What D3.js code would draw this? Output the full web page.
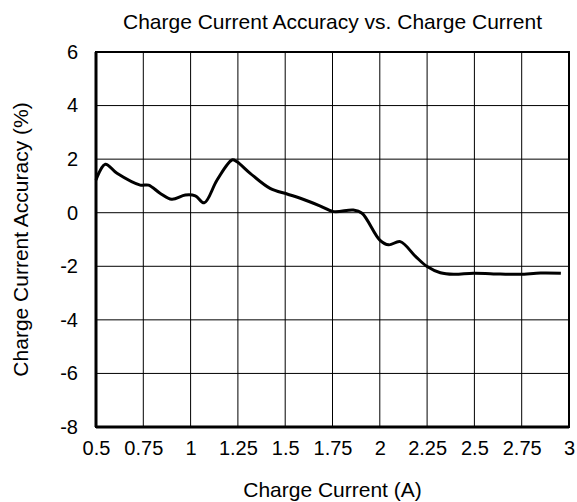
<!DOCTYPE html>
<html>
<head>
<meta charset="utf-8">
<script src="https://cdn.jsdelivr.net/npm/d3@7"></script>
<style>
  body { margin: 0; background: #fff; }
  text { font-family: "Liberation Sans", Arial, sans-serif; fill: #000; }
</style>
</head>
<body>
<svg id="chart" width="577" height="502"></svg>
<script>
// Values
const currentA = [0.5, 0.549, 0.611, 0.734, 0.778, 0.84, 0.9, 0.972, 1.025, 1.072, 1.14, 1.219, 1.245,
  1.315, 1.42, 1.51, 1.58, 1.686, 1.756, 1.86, 1.906, 2.0, 2.047, 2.108, 2.19, 2.25, 2.32, 2.39,
  2.496, 2.637, 2.74, 2.85, 2.957];
const accuracyPct = [1.22, 1.81, 1.47, 1.03, 1.03, 0.72, 0.5, 0.66, 0.63, 0.37, 1.22, 1.97, 1.9,
  1.47, 0.91, 0.7, 0.54, 0.25, 0.04, 0.1, -0.02, -1.02, -1.2, -1.08, -1.64, -2.01, -2.24, -2.3,
  -2.26, -2.29, -2.3, -2.25, -2.26];
const xTicks = [0.5, 0.75, 1, 1.25, 1.5, 1.75, 2, 2.25, 2.5, 2.75, 3];
const yTicks = [-8, -6, -4, -2, 0, 2, 4, 6];

const svg = d3.select("#chart");
const margin = { top: 52, right: 8, bottom: 75, left: 96 };
const width = +svg.attr("width");
const height = +svg.attr("height");
const innerWidth = width - margin.left - margin.right;
const innerHeight = height - margin.top - margin.bottom;

const x = d3.scaleLinear().domain([0.5, 3]).range([0, innerWidth]);
const y = d3.scaleLinear().domain([-8, 6]).range([innerHeight, 0]);

const g = svg.append("g").attr("transform", `translate(${margin.left},${margin.top})`);

// grid
g.append("g")
  .selectAll("line")
  .data(xTicks)
  .join("line")
  .attr("x1", (d) => x(d))
  .attr("x2", (d) => x(d))
  .attr("y1", 0)
  .attr("y2", innerHeight)
  .attr("stroke", "#000")
  .attr("stroke-width", 1);

g.append("g")
  .selectAll("line")
  .data(yTicks)
  .join("line")
  .attr("x1", 0)
  .attr("x2", innerWidth)
  .attr("y1", (d) => y(d))
  .attr("y2", (d) => y(d))
  .attr("stroke", "#000")
  .attr("stroke-width", 1);

// frame
g.append("rect")
  .attr("width", innerWidth)
  .attr("height", innerHeight)
  .attr("fill", "none")
  .attr("stroke", "#000")
  .attr("stroke-width", 2);
g.append("line").attr("x1", 0).attr("x2", 0).attr("y1", 0).attr("y2", innerHeight)
  .attr("stroke", "#000").attr("stroke-width", 3);
g.append("line").attr("x1", 0).attr("x2", innerWidth).attr("y1", innerHeight).attr("y2", innerHeight)
  .attr("stroke", "#000").attr("stroke-width", 3);

// tick labels
const fmt = (d) => String(d);
const xAxis = g.append("g")
  .attr("transform", `translate(0,${innerHeight})`)
  .call(d3.axisBottom(x).tickValues(xTicks).tickSize(0).tickPadding(14).tickFormat(fmt))
  .attr("font-size", 20)
  .attr("font-family", "Liberation Sans, Arial, sans-serif");
xAxis.select(".domain").remove();

const yAxis = g.append("g")
  .call(d3.axisLeft(y).tickValues(yTicks).tickSize(0).tickPadding(18).tickFormat(fmt))
  .attr("font-size", 20)
  .attr("font-family", "Liberation Sans, Arial, sans-serif");
yAxis.select(".domain").remove();

// curve
const points = currentA.map((c, i) => ({ c, a: accuracyPct[i] }));
const line = d3.line()
  .x((d) => x(d.c))
  .y((d) => y(d.a))
  .curve(d3.curveCatmullRom.alpha(0.5));

g.append("path")
  .datum(points)
  .attr("fill", "none")
  .attr("stroke", "#000")
  .attr("stroke-width", 3)
  .attr("stroke-linejoin", "round")
  .attr("d", line);

// titles
svg.append("text")
  .attr("x", margin.left + innerWidth / 2)
  .attr("y", 29)
  .attr("text-anchor", "middle")
  .attr("font-size", 21)
  .text("Charge Current Accuracy vs. Charge Current");

svg.append("text")
  .attr("x", margin.left + innerWidth / 2)
  .attr("y", 497)
  .attr("text-anchor", "middle")
  .attr("font-size", 21)
  .text("Charge Current (A)");

svg.append("text")
  .attr("transform", `translate(28,${margin.top + innerHeight / 2}) rotate(-90)`)
  .attr("text-anchor", "middle")
  .attr("font-size", 21)
  .text("Charge Current Accuracy (%)");
</script>
</body>
</html>
